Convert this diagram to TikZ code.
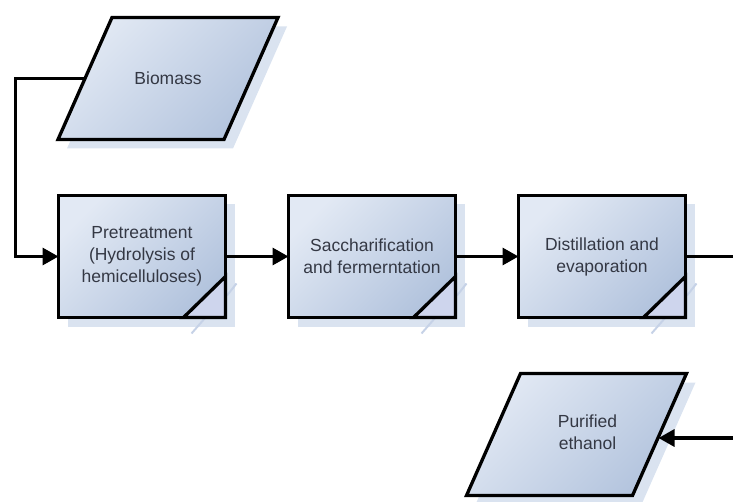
\documentclass[tikz,border=0pt]{standalone}
\usepackage{fontspec}
\setmainfont{Liberation Sans}
\usetikzlibrary{arrows.meta, positioning, calc, shadows}
\definecolor{boxlight}{RGB}{226,233,244}
\definecolor{boxdark}{RGB}{178,195,221}
\definecolor{shadowblue}{RGB}{218,227,240}
\definecolor{shadowline}{RGB}{198,210,231}
\definecolor{foldblue}{RGB}{206,213,237}
\definecolor{textgray}{RGB}{52,56,68}

\tikzset{
  flowtext/.style={font=\fontsize{17.5}{22}\selectfont, text=textgray, align=center},
  flowline/.style={line width=3.3pt},
  flowarrow/.style={flowline, -{Triangle[length=16pt, width=17pt]}},
  boxfill/.style={top color=boxlight, bottom color=boxdark, shading angle=45,
    general shadow={fill=shadowblue, shadow xshift=9pt, shadow yshift=-9pt}},
  procbox/.style={flowtext, flowline, draw, boxfill, minimum width=167pt,
    minimum height=122pt, inner sep=0pt, outer sep=0pt},
  databox/.style={flowline, draw, boxfill, line join=miter},
}

\begin{document}
\begin{tikzpicture}[x=1pt, y=1pt]
  \useasboundingbox (0,0) rectangle (733,501);

  % Input: biomass
  \coordinate (bioc) at (168,422.5);
  \draw[databox] ($(bioc)+(-110,-61)$) -- ($(bioc)+(56,-61)$)
    -- ($(bioc)+(110,61)$) -- ($(bioc)+(-56,61)$) -- cycle;
  \node[flowtext] (bio) at (bioc) {Biomass};
  \coordinate (bioin) at ($(bioc)+(-83,0)$);

  % Process steps
  \node[procbox] (pre) at (142,244.5) {Pretreatment\\(Hydrolysis of\\hemicelluloses)};
  \node[procbox, right=63pt of pre] (sac) {Saccharification\\and fermerntation};
  \node[procbox, right=63pt of sac] (dist) {Distillation and\\evaporation};

  % Folded corners
  \foreach \step in {pre, sac, dist} {
    \draw[shadowline, line width=2pt] ($(\step.south east)+(-34,-16)$) -- ($(\step.south east)+(-20,0)$);
    \draw[shadowline, line width=2pt] ($(\step.south east)+(1.5,22)$) -- ($(\step.south east)+(11,34)$);
    \draw[flowline, fill=foldblue] (\step.south east) -- ++(-42,0) -- ++(42,41) -- cycle;
  }

  % Output: purified ethanol
  \coordinate (ethc) at (576.5,66.5);
  \draw[databox] ($(ethc)+(-110,-61)$) -- ($(ethc)+(56,-61)$)
    -- ($(ethc)+(110,61)$) -- ($(ethc)+(-56,61)$) -- cycle;
  \node[flowtext] (eth) at ($(ethc)+(11,2)$) {Purified\\ethanol};
  \coordinate (ethin) at ($(ethc)+(82,-3.5)$);

  % Connectors
  \draw[flowarrow] (bioin) -| ([xshift=-43pt]pre.west) -- (pre.west);
  \draw[flowarrow] (pre) -- (sac);
  \draw[flowarrow] (sac) -- (dist);
  \draw[flowarrow] (dist.east) -- ++(60,0) |- (ethin);
\end{tikzpicture}
\end{document}
